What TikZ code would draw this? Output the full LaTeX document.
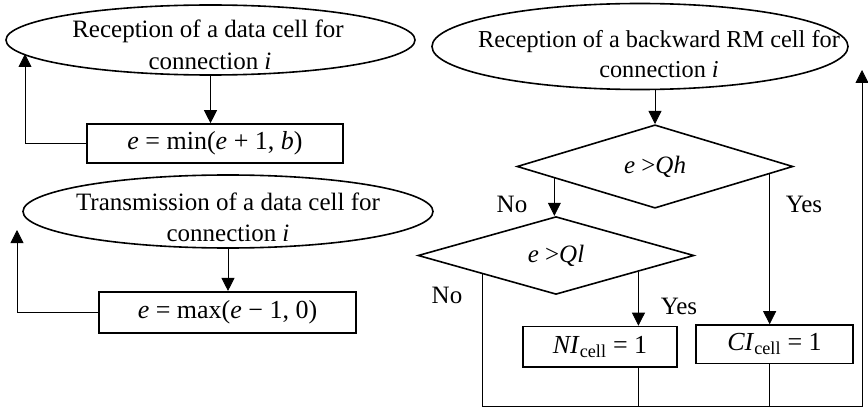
\documentclass[tikz,border=0pt]{standalone}
\usepackage{fontspec}
\setmainfont{Liberation Serif}
\usetikzlibrary{shapes.geometric,arrows.meta,calc}
\begin{document}
\begin{tikzpicture}[x=1pt,y=-1pt,
  shp/.style={draw,line width=1.6pt},
  conn/.style={line width=0.8pt},
  arr/.style={conn,-{Triangle[length=13pt,width=13pt]}},
  oval/.style={shp,ellipse,inner sep=0pt},
  boxn/.style={shp,rectangle,inner sep=0pt,font=\fontsize{26}{30}\selectfont},
  dia/.style={shp,diamond,inner sep=0pt,minimum width=276pt,minimum height=67pt,font=\fontsize{25}{29}\selectfont},
  txt/.style={inner sep=0pt,font=\fontsize{25}{29}\selectfont},
  txts/.style={inner sep=0pt,font=\fontsize{24.3}{29}\selectfont}]
\useasboundingbox (0,0) rectangle (868,409);
% left column
\node[oval,minimum width=409pt,minimum height=70pt] (E1) at (210.5,40) {};
\node[txt,anchor=base] (E1a) at (208,38) {Reception of a data cell for};
\node[txt,anchor=base] (E1b) at (210,70) {connection \textit{i}};
\node[boxn,minimum width=256pt,minimum height=39pt] (B1) at (215,143.5) {\textit{e} = min(\textit{e} + 1, \textit{b})};
\node[oval,minimum width=410pt,minimum height=73pt] (E2) at (228,211.5) {};
\node[txt,anchor=base] (E2a) at (228,211) {Transmission of a data cell for};
\node[txt,anchor=base] (E2b) at (228,241) {connection \textit{i}};
\node[boxn,minimum width=257pt,minimum height=41.5pt] (B2) at (227.5,312.5) {\textit{e} = max(\textit{e} − 1, 0)};
\coordinate (f1) at (25,54);
\coordinate (f2) at (17,230);
\draw[arr] (E1.south) -- (E1.south |- B1.north);
\draw[arr] (B1.west) -| (f1);
\draw[arr] (E2.south) -- (E2.south |- B2.north);
\draw[arr] (B2.west) -| (f2);
% right column
\node[oval,minimum width=416pt,minimum height=86pt] (E3) at (640,46.5) {};
\node[txts,anchor=base] (E3a) at (659,48) {Reception of a backward RM cell for};
\node[txts,anchor=base] (E3b) at (659,78) {connection \textit{i}};
\node[dia] (D1) at (655,166.5) {\textit{e} >\textit{Qh}};
\node[dia] (D2) at (556,255.5) {\textit{e} >\textit{Ql}};
\node[boxn,minimum width=154pt,minimum height=40.5pt] (NI) at (600,346.75) {\textit{NI}\textsubscript{cell} = 1};
\node[boxn,minimum width=157pt,minimum height=38.5pt] (CI) at (774.5,344.25) {\textit{CI}\textsubscript{cell} = 1};
\coordinate (n1) at ($(D1.west)!0.275!(D1.south)$);
\coordinate (y1) at ($(D1.east)!0.174!(D1.south)$);
\coordinate (n2) at ($(D2.west)!0.471!(D2.south)$);
\coordinate (y2) at ($(D2.east)!0.406!(D2.south)$);
\coordinate (bot) at (862,406);
\coordinate (rt) at (862,70);
\draw[arr] (E3.south -| D1.north) -- (D1.north);
\draw[arr] (n1) -- (n1 |- D2.north);
\draw[arr] (y1) -- (y1 |- CI.north);
\draw[arr] (y2) -- (y2 |- NI.north);
\draw[arr] (n2) -- (n2 |- bot) -- (bot) -- (rt);
\draw[conn] (y2 |- NI.south) -- (y2 |- bot);
\draw[conn] (y1 |- CI.south) -- (y1 |- bot);
\node[txt,anchor=base] (L1) at (512,212) {No};
\node[txt,anchor=base] (L2) at (804,212) {Yes};
\node[txt,anchor=base] (L3) at (447,303) {No};
\node[txt,anchor=base] (L4) at (679,314) {Yes};
\end{tikzpicture}
\end{document}
